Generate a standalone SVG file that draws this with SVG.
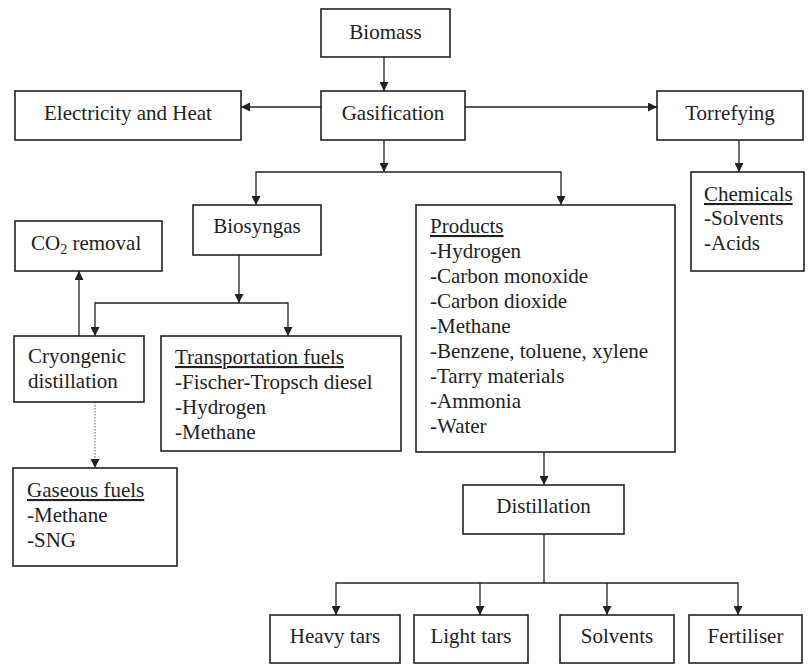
<svg xmlns="http://www.w3.org/2000/svg" width="809" height="665" viewBox="0 0 809 665">
<style>
.box{fill:#fff;stroke:#222;stroke-width:1.6}
text{font-family:'Liberation Serif','DejaVu Serif',serif;font-size:21px;fill:#222}
.c{text-anchor:middle}
.u{text-decoration:underline}
.ln{fill:none;stroke:#222;stroke-width:1.3}
.dot{fill:none;stroke:#777;stroke-width:1.2;stroke-dasharray:1.5,1.5}
</style>
<defs>
<marker id="ah" viewBox="0 0 10 10" refX="10" refY="5" markerWidth="9" markerHeight="9" markerUnits="userSpaceOnUse" orient="auto-start-reverse">
<path d="M0,0 L10,5 L0,10 Z" fill="#222"/>
</marker>
</defs>
<rect width="809" height="665" fill="#fff"/>
<g id="connectors">
<line class="ln" x1="384" y1="57" x2="384" y2="91" marker-end="url(#ah)"/>
<line class="ln" x1="321" y1="107" x2="241" y2="107" marker-end="url(#ah)"/>
<line class="ln" x1="465" y1="107" x2="657" y2="107" marker-end="url(#ah)"/>
<line class="ln" x1="384" y1="140" x2="384" y2="172" marker-end="url(#ah)"/>
<polyline class="ln" points="256,205 256,172 561,172 561,205" marker-start="url(#ah)" marker-end="url(#ah)"/>
<line class="ln" x1="739" y1="140" x2="739" y2="172" marker-end="url(#ah)"/>
<line class="ln" x1="239" y1="255" x2="239" y2="303" marker-end="url(#ah)"/>
<polyline class="ln" points="95,336 95,303 288,303 288,336" marker-start="url(#ah)" marker-end="url(#ah)"/>
<line class="ln" x1="79" y1="336" x2="79" y2="271" marker-end="url(#ah)"/>
<line class="dot" x1="95" y1="402" x2="95" y2="468"/>
<path d="M90.5,459 L99.5,459 L95,468 Z" fill="#222"/>
<line class="ln" x1="544" y1="452" x2="544" y2="485" marker-end="url(#ah)"/>
<line class="ln" x1="544" y1="534" x2="544" y2="583"/>
<polyline class="ln" points="336,615 336,583 738,583 738,615" marker-start="url(#ah)" marker-end="url(#ah)"/>
<line class="ln" x1="480" y1="583" x2="480" y2="615" marker-end="url(#ah)"/>
<line class="ln" x1="607" y1="583" x2="607" y2="615" marker-end="url(#ah)"/>
</g>
<g id="biomass"><rect class="box" x="321" y="9" width="129" height="48"/><text class="c" x="385.5" y="39">Biomass</text></g>
<g id="gasification"><rect class="box" x="321" y="91" width="144" height="49"/><text class="c" x="393" y="120">Gasification</text></g>
<g id="electricity"><rect class="box" x="15" y="91" width="226" height="49"/><text class="c" x="128" y="120">Electricity and Heat</text></g>
<g id="torrefying"><rect class="box" x="657" y="91" width="146" height="49"/><text class="c" x="730" y="120">Torrefying</text></g>
<g id="chemicals"><rect class="box" x="691" y="172" width="113" height="99"/>
<text x="704" y="201"><tspan class="u">Chemicals</tspan></text>
<text x="704" y="225">-Solvents</text>
<text x="704" y="250">-Acids</text></g>
<g id="biosyngas"><rect class="box" x="193" y="205" width="128" height="50"/><text class="c" x="257" y="233">Biosyngas</text></g>
<g id="products"><rect class="box" x="416" y="205" width="259" height="247"/>
<text x="430" y="233"><tspan class="u">Products</tspan></text>
<text x="430" y="258">-Hydrogen</text>
<text x="430" y="283">-Carbon monoxide</text>
<text x="430" y="308">-Carbon dioxide</text>
<text x="430" y="333">-Methane</text>
<text x="430" y="358">-Benzene, toluene, xylene</text>
<text x="430" y="383">-Tarry materials</text>
<text x="430" y="408">-Ammonia</text>
<text x="430" y="433">-Water</text></g>
<g id="co2removal"><rect class="box" x="15" y="221" width="147" height="50"/><text x="31" y="250">CO<tspan font-size="14" dy="4">2</tspan><tspan dy="-4"> removal</tspan></text></g>
<g id="cryogenic"><rect class="box" x="14" y="336" width="130" height="66"/>
<text x="28" y="363">Cryongenic</text>
<text x="28" y="388">distillation</text></g>
<g id="transportation"><rect class="box" x="161" y="336" width="240" height="115"/>
<text x="175" y="364"><tspan class="u">Transportation fuels</tspan></text>
<text x="175" y="389">-Fischer-Tropsch diesel</text>
<text x="175" y="414">-Hydrogen</text>
<text x="175" y="439">-Methane</text></g>
<g id="gaseous"><rect class="box" x="13" y="468" width="164" height="98"/>
<text x="27" y="497"><tspan class="u">Gaseous fuels</tspan></text>
<text x="27" y="522">-Methane</text>
<text x="27" y="547">-SNG</text></g>
<g id="distillation"><rect class="box" x="463" y="485" width="161" height="49"/><text class="c" x="543.5" y="513">Distillation</text></g>
<g id="heavytars"><rect class="box" x="270" y="615" width="130" height="48"/><text class="c" x="335" y="643">Heavy tars</text></g>
<g id="lighttars"><rect class="box" x="414" y="615" width="114" height="48"/><text class="c" x="471" y="643">Light tars</text></g>
<g id="solvents"><rect class="box" x="560" y="615" width="114" height="48"/><text class="c" x="617" y="643">Solvents</text></g>
<g id="fertiliser"><rect class="box" x="689" y="615" width="113" height="48"/><text class="c" x="745.5" y="643">Fertiliser</text></g>
</svg>
